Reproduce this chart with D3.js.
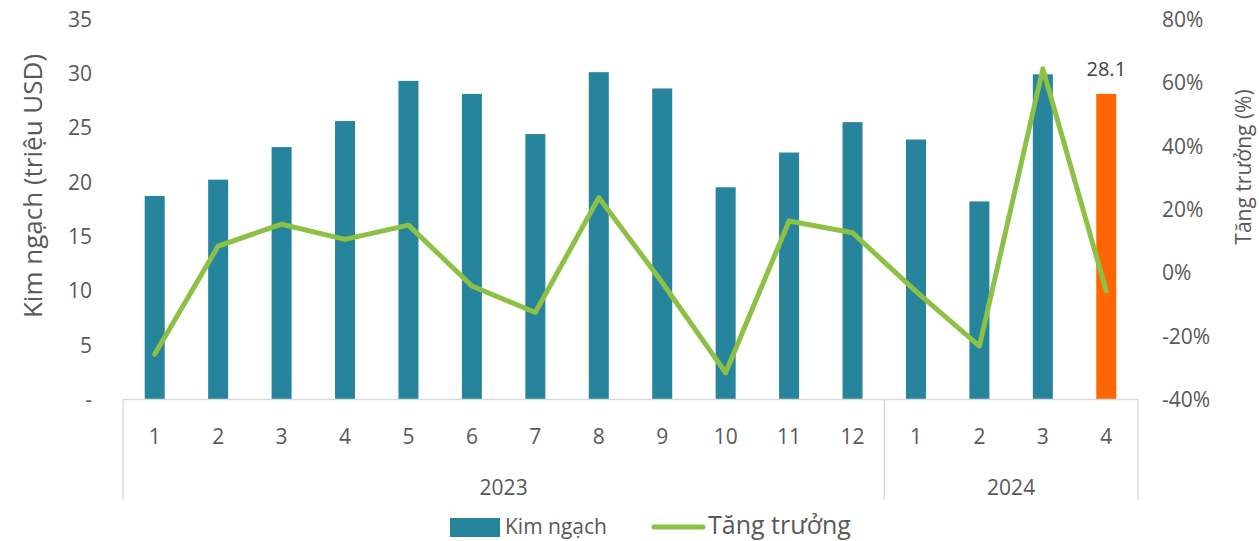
<!DOCTYPE html>
<html lang="vi">
<head>
<meta charset="UTF-8">
<title>Kim ngạch</title>
<style>
  body { margin: 0; background: #fff; }
  svg text { font-family: "Open Sans", "Noto Sans", sans-serif; fill: #595959; }
</style>
</head>
<body>
<div id="chart"></div>
<script src="https://cdnjs.cloudflare.com/ajax/libs/d3/7.8.5/d3.min.js"></script>
<script>
// data
const months = ["1","2","3","4","5","6","7","8","9","10","11","12","1","2","3","4"];
const years = [{ label: "2023", from: 0, to: 11 }, { label: "2024", from: 12, to: 15 }];
const kimNgach = [18.7, 20.2, 23.2, 25.6, 29.3, 28.1, 24.4, 30.1, 28.6, 19.5, 22.7, 25.5, 23.9, 18.2, 29.9, 28.1];
const tangTruong = [-25.9, 8.3, 15.2, 10.4, 14.9, -4.3, -12.7, 23.6, -3.2, -31.7, 16.2, 12.5, -6.0, -23.3, 64.3, -5.9];
const leftTicks = [0, 5, 10, 15, 20, 25, 30, 35];
const rightTicks = [-40, -20, 0, 20, 40, 60, 80];

const W = 1259, H = 541;
const mLeft = 123, mRight = 1138, mTop = 19, mBottom = 399;

const svg = d3.select('#chart').append('svg')
  .attr('width', W).attr('height', H);

const x = d3.scaleBand().domain(d3.range(months.length)).range([mLeft, mRight]);
const y = d3.scaleLinear().domain([0, 35]).range([mBottom, mTop]);
const y2 = d3.scaleLinear().domain([-40, 80]).range([mBottom, mTop]);

// left axis
const yAxis = svg.append('g')
  .attr('transform', `translate(${mLeft - 31},0)`)
  .call(d3.axisLeft(y).tickValues(leftTicks).tickSize(0).tickFormat(d => d === 0 ? '-' : d));
yAxis.select('.domain').remove();
yAxis.selectAll('text').attr('font-size', 21).attr('x', 0).attr('dy', '0.35em');

// right axis
const y2Axis = svg.append('g')
  .attr('transform', `translate(${mRight + 24},0)`)
  .call(d3.axisRight(y2).tickValues(rightTicks).tickSize(0).tickFormat(d => d + '%'));
y2Axis.select('.domain').remove();
y2Axis.selectAll('text').attr('font-size', 21).attr('x', 0).attr('dy', '0.35em');

// bars
const barW = 20;
svg.append('g').selectAll('rect')
  .data(kimNgach)
  .join('rect')
  .attr('x', (d, i) => x(i) + x.bandwidth() / 2 - barW / 2)
  .attr('y', d => y(d))
  .attr('width', barW)
  .attr('height', d => y(0) - y(d))
  .attr('fill', (d, i) => i === kimNgach.length - 1 ? '#ff6600' : '#26849c');

// label on last bar
const last = kimNgach.length - 1;
svg.append('text')
  .attr('x', x(last) + x.bandwidth() / 2)
  .attr('y', y(kimNgach[last]) - 18)
  .attr('text-anchor', 'middle')
  .attr('font-size', 20)
  .style('fill', '#404040')
  .text(kimNgach[last].toFixed(1));

// growth line
const line = d3.line()
  .x((d, i) => x(i) + x.bandwidth() / 2)
  .y(d => y2(d));
svg.append('path')
  .datum(tangTruong)
  .attr('d', line)
  .attr('fill', 'none')
  .attr('stroke', '#8cc145')
  .attr('stroke-width', 5)
  .attr('stroke-linejoin', 'round')
  .attr('stroke-linecap', 'round');

// category axis frame
const frame = svg.append('g').attr('stroke', '#d9d9d9').attr('stroke-width', 1.3);
frame.append('line').attr('x1', mLeft).attr('x2', mRight).attr('y1', mBottom + 0.5).attr('y2', mBottom + 0.5);
const seps = [0].concat(years.map(g => g.to + 1));
frame.selectAll('.sep')
  .data(seps)
  .join('line')
  .attr('class', 'sep')
  .attr('x1', d => d < months.length ? x(d) : mRight)
  .attr('x2', d => d < months.length ? x(d) : mRight)
  .attr('y1', mBottom)
  .attr('y2', 500);

svg.append('g').selectAll('text')
  .data(months)
  .join('text')
  .attr('x', (d, i) => x(i) + x.bandwidth() / 2)
  .attr('y', 444)
  .attr('text-anchor', 'middle')
  .attr('font-size', 21)
  .text(d => d);

svg.append('g').selectAll('text')
  .data(years)
  .join('text')
  .attr('x', g => (x(g.from) + x(g.to) + x.bandwidth()) / 2)
  .attr('y', 495)
  .attr('text-anchor', 'middle')
  .attr('font-size', 21)
  .text(g => g.label);

// axis titles
svg.append('text')
  .attr('transform', 'translate(42,186) rotate(-90)')
  .attr('text-anchor', 'middle')
  .attr('font-size', 26)
  .text('Kim ngạch (triệu USD)');

svg.append('text')
  .attr('transform', 'translate(1251,167) rotate(-90)')
  .attr('text-anchor', 'middle')
  .attr('font-size', 21)
  .text('Tăng trưởng (%)');

// legend
const lg = svg.append('g');
lg.append('rect').attr('x', 450).attr('y', 518).attr('width', 50).attr('height', 19).attr('fill', '#26849c');
lg.append('text').attr('x', 505).attr('y', 534).attr('font-size', 21).text('Kim ngạch');
lg.append('line').attr('x1', 654).attr('x2', 703).attr('y1', 527).attr('y2', 527)
  .attr('stroke', '#8cc145').attr('stroke-width', 5).attr('stroke-linecap', 'round');
lg.append('text').attr('x', 708).attr('y', 534).attr('font-size', 25).text('Tăng trưởng');
</script>
</body>
</html>
